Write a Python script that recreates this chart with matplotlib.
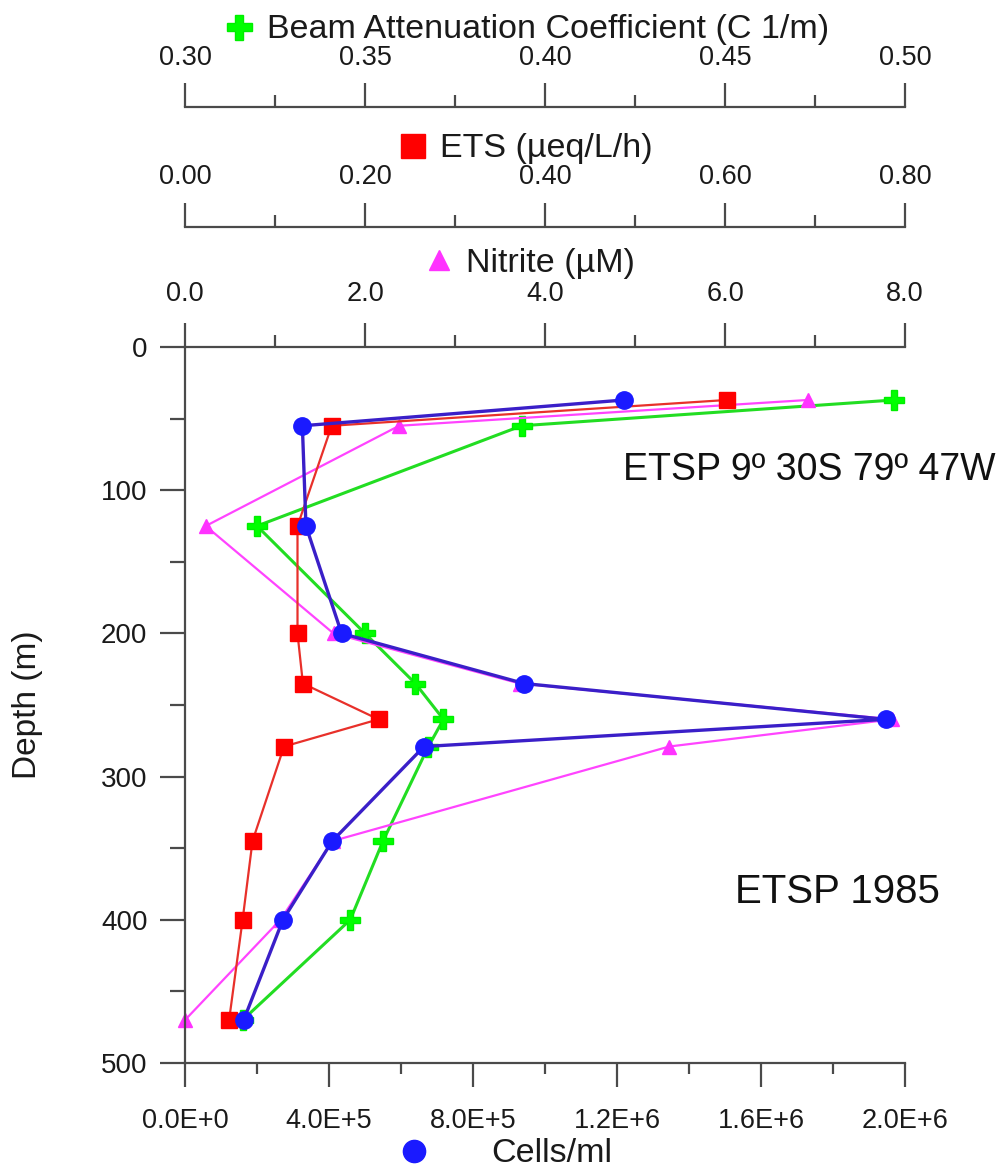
import matplotlib.pyplot as plt
from matplotlib.lines import Line2D
from matplotlib.ticker import MultipleLocator, FixedLocator

plt.rcParams['font.family'] = ['Liberation Sans', 'DejaVu Sans']

# depth of samples (m)
depth = [37, 55, 125, 200, 235, 260, 279, 345, 400, 470]
# series
cells = [1.22e6, 3.26e5, 3.36e5, 4.35e5, 9.42e5, 1.946e6, 6.64e5, 4.09e5, 2.72e5, 1.63e5]
ets = [0.602, 0.163, 0.125, 0.125, 0.131, 0.215, 0.110, 0.075, 0.064, 0.049]
nitrite = [6.92, 2.38, 0.23, 1.65, 3.72, 7.86, 5.38, 1.64, 1.06, 0.0]
beam = [0.497, 0.3935, 0.320, 0.350, 0.364, 0.3718, 0.3676, 0.355, 0.3459, 0.316]

cell_ticks = [0, 4e5, 8e5, 1.2e6, 1.6e6, 2.0e6]
cell_labels = ['0.0E+0', '4.0E+5', '8.0E+5', '1.2E+6', '1.6E+6', '2.0E+6']

spine_c = '#4a4a4a'
txt_c = '#1a1a1a'
lab_size = 19.5
title_size = 24.5

fig = plt.figure(figsize=(10, 11.7), dpi=100)
ax = fig.add_axes([0.185, 0.09145, 0.72, 0.61197])

ax_beam = ax.twiny()
ax_nit = ax.twiny()
ax_ets = ax.twiny()

# stacking: green under magenta under red under blue
ax_beam.set_zorder(1)
ax_nit.set_zorder(2)
ax_ets.set_zorder(3)
ax.set_zorder(4)
for a in (ax, ax_beam, ax_nit, ax_ets):
    a.patch.set_visible(False)

ax_beam.plot(beam, depth, color='#22dd22', lw=2.2, marker='P', ms=14,
             mfc='#00ff00', mec='#00ee00', clip_on=False)
ax_nit.plot(nitrite, depth, color='#ff44ff', lw=1.6, marker='^', ms=10,
            mfc='#ff33ff', mec='#ff33ff', clip_on=False)
ax_ets.plot(ets, depth, color='#e8302a', lw=1.6, marker='s', ms=12,
            mfc='#ff0000', mec='#ff0000', clip_on=False)
ax.plot(cells, depth, color='#3a1fc8', lw=2.4, marker='o', ms=12.5,
        mfc='#1a1aff', mec='#1a1aff', clip_on=False)

# main axes: cells (bottom) and depth (left)
ax.set_xlim(0, 2.0e6)
ax.set_ylim(500, 0)
ax.xaxis.set_major_locator(FixedLocator(cell_ticks))
ax.set_xticklabels(cell_labels)
ax.xaxis.set_minor_locator(MultipleLocator(2e5))
ax.yaxis.set_major_locator(MultipleLocator(100))
ax.yaxis.set_minor_locator(MultipleLocator(50))
ax.spines['right'].set_visible(False)
ax.spines['top'].set_visible(False)
for s in ('left', 'bottom'):
    ax.spines[s].set_color(spine_c)
    ax.spines[s].set_linewidth(1.6)
ax.tick_params(axis='x', which='major', direction='out', length=17, width=1.6,
               pad=15.5, labelsize=lab_size, colors=spine_c, labelcolor=txt_c,
               top=False)
ax.tick_params(axis='x', which='minor', direction='out', length=8, width=1.6,
               colors=spine_c, top=False)
ax.tick_params(axis='y', which='major', direction='out', length=18, width=1.6,
               pad=9, labelsize=20, colors=spine_c, labelcolor=txt_c, right=False)
ax.tick_params(axis='y', which='minor', direction='out', length=11, width=1.6,
               colors=spine_c, right=False)
ax.set_ylabel('Depth (m)', fontsize=24, color=txt_c)
ax.yaxis.set_label_coords(-0.197, 0.5)

# top axes
def top_axis(a, lo, hi, major, minor, fmt, pos, pad):
    a.set_xlim(lo, hi)
    a.xaxis.set_major_locator(MultipleLocator(major))
    a.xaxis.set_minor_locator(MultipleLocator(minor))
    a.xaxis.set_major_formatter(fmt)
    for s in ('left', 'right', 'bottom'):
        a.spines[s].set_visible(False)
    a.spines['top'].set_color(spine_c)
    a.spines['top'].set_linewidth(1.6)
    if pos is not None:
        a.spines['top'].set_position(('axes', pos))
    a.tick_params(axis='x', which='major', direction='out', length=17, width=1.6,
                  pad=pad, labelsize=lab_size, colors=spine_c, labelcolor=txt_c,
                  bottom=False)
    a.tick_params(axis='x', which='minor', direction='out', length=8.5, width=1.6,
                  colors=spine_c, bottom=False)
    a.tick_params(axis='y', left=False, right=False, labelleft=False, labelright=False)

top_axis(ax_nit, 0, 8, 2, 1, '{x:.1f}', None, 12)
top_axis(ax_ets, 0, 0.8, 0.2, 0.1, '{x:.2f}', 1.1676, 9.4)
top_axis(ax_beam, 0.30, 0.50, 0.05, 0.025, '{x:.2f}', 1.3352, 8.6)

# axis titles with series symbols
def key(handle, label, cx, cy, gap=0.35):
    fig.legend(handles=[handle], labels=[label], loc='center',
               bbox_to_anchor=(cx, cy), frameon=False, fontsize=title_size,
               handlelength=0.9, handletextpad=gap, borderpad=0,
               borderaxespad=0, labelcolor=txt_c)

key(Line2D([], [], ls='none', marker='P', ms=18, mfc='#00ff00', mec='#00ee00'),
    'Beam Attenuation Coefficient (C 1/m)', 0.5265, 0.9744)
key(Line2D([], [], ls='none', marker='s', ms=17, mfc='#ff0000', mec='#ff0000'),
    'ETS (µeq/L/h)', 0.525, 0.8727)
key(Line2D([], [], ls='none', marker='^', ms=15, mfc='#ff33ff', mec='#ff33ff'),
    'Nitrite (µM)', 0.5295, 0.7752)
key(Line2D([], [], ls='none', marker='o', ms=16, mfc='#1a1aff', mec='#1a1aff'),
    'Cells/ml', 0.5055, 0.0137, gap=1.8)

ax.text(1.2167e6, 93, 'ETSP 9º 30S 79º 47W', fontsize=27, color='#111111',
        ha='left', va='baseline')
ax.text(1.528e6, 388, 'ETSP 1985', fontsize=29, color='#111111',
        ha='left', va='baseline')

fig.savefig('out.png', dpi=100)
